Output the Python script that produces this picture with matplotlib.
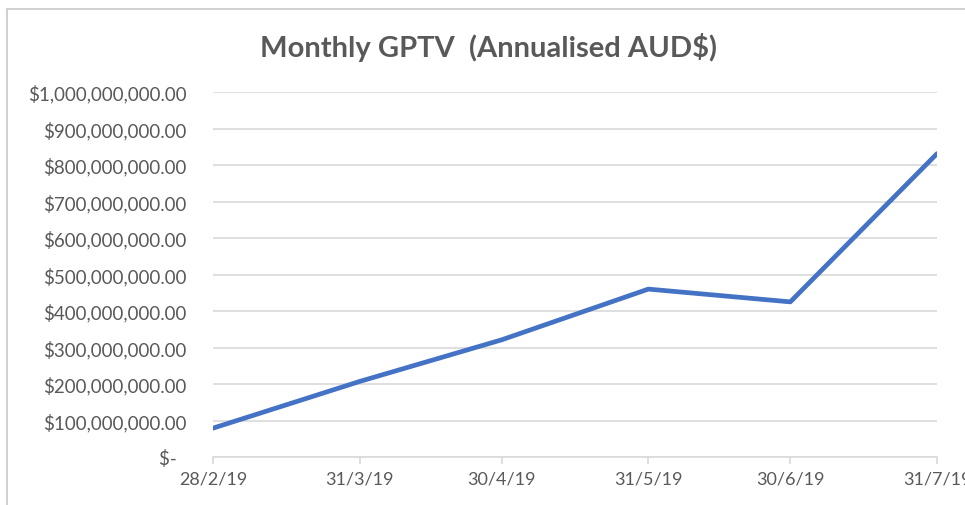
import matplotlib
matplotlib.use("Agg")
import matplotlib.pyplot as plt
import matplotlib.dates as mdates
import matplotlib.ticker as mticker
from matplotlib.patches import Rectangle
from datetime import date

# data
dates = [date(2019, 2, 28), date(2019, 3, 31), date(2019, 4, 30),
         date(2019, 5, 31), date(2019, 6, 30), date(2019, 7, 31)]
gptv = [79e6, 207e6, 321e6, 460e6, 425e6, 831e6]
y_ticks = [i * 100e6 for i in range(11)]

TEXT = "#595959"
GRID = "#D9D9D9"
BLUE = "#4472C4"

plt.rcParams['font.family'] = ['Lato', 'DejaVu Sans']

W, H = 965, 506
fig = plt.figure(figsize=(W / 100, H / 100), dpi=100)

# chart frame (cropped at right and bottom)
fig.patches.append(Rectangle((7 / W, -0.1), 1.2, (H - 10) / H + 0.1,
                             transform=fig.transFigure, fill=False,
                             edgecolor="#C8C8C8", linewidth=1.2))

ax = fig.add_axes([213 / W, (H - 458) / H, (937 - 213) / W, (458 - 93) / H])

ax.plot(dates, gptv, color=BLUE, linewidth=3.4, solid_capstyle='round',
        solid_joinstyle='round', zorder=3)

ax.set_xlim(dates[0], dates[-1])
ax.set_ylim(0, 1e9)
ax.set_xticks(dates)
ax.xaxis.set_major_formatter(mdates.DateFormatter('%-d/%-m/%y'))
ax.set_yticks(y_ticks)


def money(v, pos):
    if v == 0:
        return "$-  "
    return f"${v:,.2f}"


ax.yaxis.set_major_formatter(mticker.FuncFormatter(money))

ax.grid(axis='y', color=GRID, linewidth=1.2)
ax.set_axisbelow(True)
for s in ['left', 'right', 'top']:
    ax.spines[s].set_visible(False)
ax.spines['bottom'].set_color(GRID)
ax.spines['bottom'].set_linewidth(1.2)
ax.tick_params(axis='x', colors=GRID, length=5, width=1.2, labelcolor=TEXT,
               labelsize=13, pad=5)
ax.tick_params(axis='y', length=0, labelcolor=TEXT, labelsize=13.5, pad=19)

fig.text(488 / W, 1 - 47 / H, "Monthly GPTV  (Annualised AUD$)", ha='center',
         va='center', fontsize=21, fontweight='bold', color=TEXT)

fig.savefig("out.png", dpi=100)
